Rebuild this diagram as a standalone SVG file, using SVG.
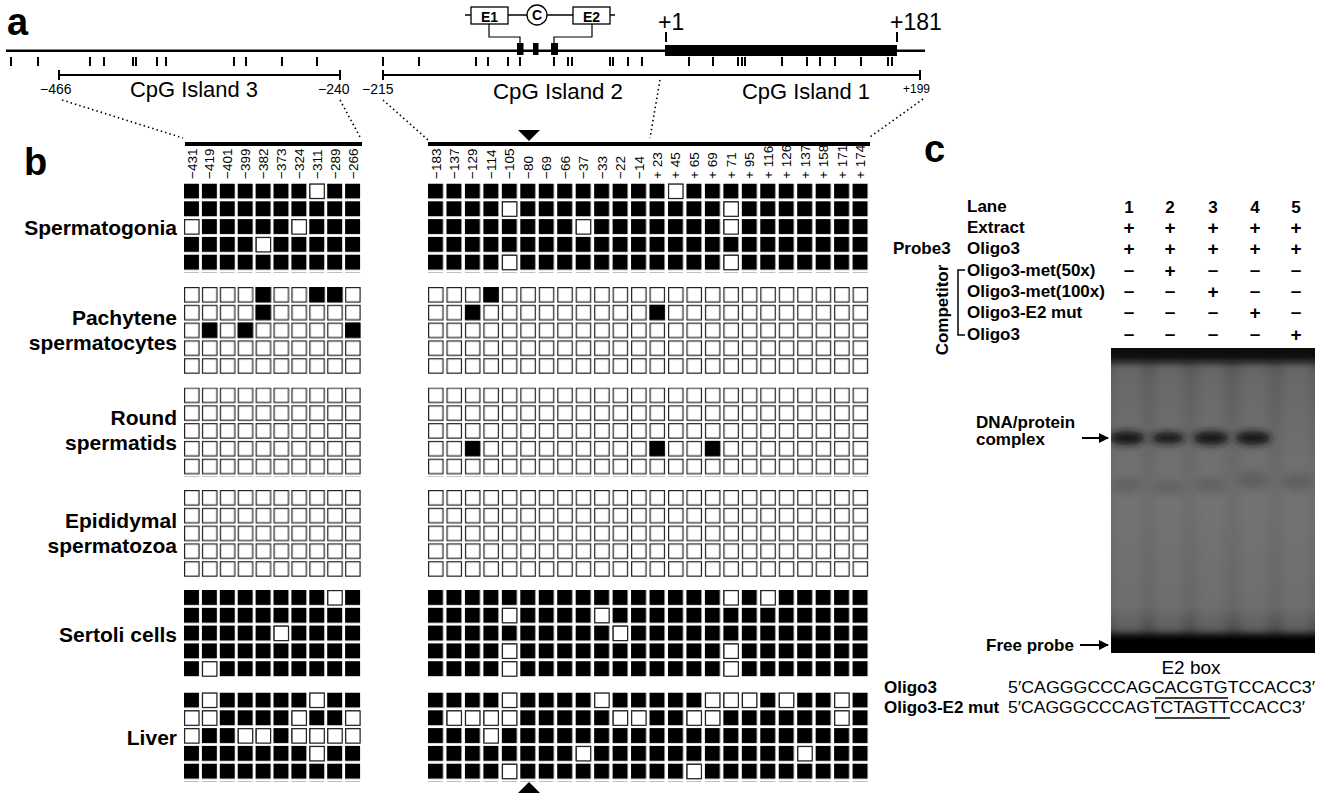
<svg xmlns="http://www.w3.org/2000/svg" xmlns:xlink="http://www.w3.org/1999/xlink" width="1324" height="800" viewBox="0 0 1324 800">
<style>
text{font-family:"Liberation Sans",Arial,sans-serif;fill:#000}
.b{font-weight:bold}
.cl{font-size:13.5px}
.lbl{font-size:21px;font-weight:bold;text-anchor:end}
.isl{font-size:22px}
.sm{font-size:14px}
.row{font-size:17px;font-weight:bold}
.pm{font-size:19px;font-weight:bold;text-anchor:middle}
.seq{font-size:17px}
.line{stroke:#000;fill:none}
.dot{stroke:#000;stroke-width:1.6;stroke-dasharray:1.5 3;fill:none}
</style>
<defs>
<pattern id="LW" width="17.9" height="17.8" patternUnits="userSpaceOnUse"><rect x="0.6" y="0.6" width="14.4" height="14.4" fill="#fff" stroke="#222" stroke-width="1.2"/></pattern>
<pattern id="LB" width="17.9" height="17.8" patternUnits="userSpaceOnUse"><rect width="15" height="15" fill="#000"/></pattern>
<pattern id="RW" width="18.46" height="17.8" patternUnits="userSpaceOnUse"><rect x="0.6" y="0.6" width="14.4" height="14.4" fill="#fff" stroke="#222" stroke-width="1.2"/></pattern>
<pattern id="RB" width="18.46" height="17.8" patternUnits="userSpaceOnUse"><rect width="15" height="15" fill="#000"/></pattern>
<rect id="wsq" x="0.6" y="0.6" width="14.4" height="14.4" fill="#fff" stroke="#222" stroke-width="1.2"/>
<rect id="bs" x="0" y="0" width="15" height="15" fill="#000"/>
<marker id="arr" viewBox="0 0 10 10" refX="9" refY="5" markerWidth="5" markerHeight="5" orient="auto"><path d="M0,0 L10,5 L0,10 z" fill="#000"/></marker>
<linearGradient id="gelg" x1="0" y1="0" x2="0" y2="1">
<stop offset="0" stop-color="#4a4a4a"/><stop offset="0.1" stop-color="#5e5e5e"/><stop offset="0.5" stop-color="#6e6e6e"/><stop offset="0.85" stop-color="#666"/><stop offset="1" stop-color="#333"/>
</linearGradient>
<filter id="blur" x="-30%" y="-100%" width="160%" height="300%"><feGaussianBlur stdDeviation="3.5"/></filter>
<filter id="blur2" x="-30%" y="-30%" width="160%" height="160%"><feGaussianBlur stdDeviation="5"/></filter>
<clipPath id="gelclip"><rect x="1111" y="348" width="204" height="305"/></clipPath>
</defs>
<rect width="1324" height="800" fill="#fff"/>

<g id="panel-a">
<text x="7" y="35" class="b" font-size="38">a</text>
<line class="line" x1="6" y1="50.7" x2="925" y2="50.7" stroke-width="2.5"/>
<rect x="665" y="45" width="232" height="11" fill="#000"/>
<rect x="517" y="43" width="6.5" height="12" fill="#000"/>
<rect x="533" y="43" width="5.5" height="12" fill="#000"/>
<rect x="551" y="43" width="7" height="12" fill="#000"/>
<path class="line" stroke-width="2" d="M666,32V42 M897,32V42"/>
<text x="658" y="30" font-size="23">+1</text>
<text x="890" y="30" font-size="23">+181</text>
<path class="line" stroke-width="2" d="M11,57V66M38,57V66M90,57V66M104,57V66M133,57V66M136,57V66M157,57V66M166,57V66M234,57V66M246,57V66M282,57V66M317,57V66M383,57V66M419,57V66M476,57V66M488,57V66M508,57V66M520,57V66M554,57V66M568,57V66M572,57V66M610,57V66M613,57V66M628,57V66M642,57V66M689,57V66M713,57V66M738,57V66M742,57V66M745,57V66M782,57V66M807,57V66M820,57V66M835,57V66M861,57V66M888,57V66M892,57V66"/>
</g>
<g id="e-box-module">
<path class="line" stroke-width="1.3" d="M465,15H471M508,15H527M547,15H573M610,15H615"/>
<rect x="471" y="7" width="37" height="17" fill="#fff" stroke="#000" stroke-width="1.3"/>
<text x="489.5" y="21.5" class="b" font-size="14" text-anchor="middle">E1</text>
<circle cx="537" cy="15" r="10" fill="#fff" stroke="#000" stroke-width="1.3"/>
<text x="537" y="20" class="b" font-size="14" text-anchor="middle">C</text>
<rect x="573" y="7" width="37" height="17" fill="#fff" stroke="#000" stroke-width="1.3"/>
<text x="591.5" y="21.5" class="b" font-size="14" text-anchor="middle">E2</text>
<path class="line" stroke-width="1.2" d="M489,24V37H520V43 M592,24V37H554V43"/>
</g>
<g id="cpg-islands">
<path class="line" stroke-width="2" d="M59,75H340M59,70V80M340,70V80M383,75H920M383,70V80M920,70V80"/>
<text x="40" y="94" class="sm">−466</text>
<text x="130" y="97" class="isl" textLength="128" lengthAdjust="spacingAndGlyphs">CpG Island 3</text>
<text x="318" y="94" class="sm">−240</text>
<text x="362" y="94" class="sm">−215</text>
<text x="493" y="99" class="isl" textLength="130" lengthAdjust="spacingAndGlyphs">CpG Island 2</text>
<text x="742" y="99" class="isl" textLength="128" lengthAdjust="spacingAndGlyphs">CpG Island 1</text>
<text x="903" y="93" font-size="12">+199</text>
</g>
<g id="connectors">
<path class="dot" d="M62,100L183,138 M340,100L360,137 M383,100L428,140 M660,80L650,138 M923,99L870,137"/>
</g>

<g id="panel-b-header">
<text x="24" y="175" class="b" font-size="38">b</text>
<line class="line" x1="185" y1="144" x2="362" y2="144" stroke-width="4"/>
<line class="line" x1="428" y1="144" x2="870" y2="144" stroke-width="4"/>
<path d="M518,130H540L529,141z" fill="#000"/>
<path d="M518,793H540L529,782z" fill="#000"/>
</g>
<g id="col-labels" class="cl">
<text transform="translate(196.5,179) rotate(-90)">−431</text>
<text transform="translate(214.4,179) rotate(-90)">−419</text>
<text transform="translate(232.3,179) rotate(-90)">−401</text>
<text transform="translate(250.2,179) rotate(-90)">−399</text>
<text transform="translate(268.1,179) rotate(-90)">−382</text>
<text transform="translate(286,179) rotate(-90)">−373</text>
<text transform="translate(303.9,179) rotate(-90)">−324</text>
<text transform="translate(321.8,179) rotate(-90)">−311</text>
<text transform="translate(339.7,179) rotate(-90)">−289</text>
<text transform="translate(357.6,179) rotate(-90)">−266</text>
<text transform="translate(440.5,179) rotate(-90)">−183</text>
<text transform="translate(458.96,179) rotate(-90)">−137</text>
<text transform="translate(477.42,179) rotate(-90)">−129</text>
<text transform="translate(495.88,179) rotate(-90)">−114</text>
<text transform="translate(514.34,179) rotate(-90)">−105</text>
<text transform="translate(532.8,179) rotate(-90)">−80</text>
<text transform="translate(551.26,179) rotate(-90)">−69</text>
<text transform="translate(569.72,179) rotate(-90)">−66</text>
<text transform="translate(588.18,179) rotate(-90)">−37</text>
<text transform="translate(606.64,179) rotate(-90)">−33</text>
<text transform="translate(625.1,179) rotate(-90)">−22</text>
<text transform="translate(643.56,179) rotate(-90)">−14</text>
<text transform="translate(662.02,179) rotate(-90)">+ 23</text>
<text transform="translate(680.48,179) rotate(-90)">+ 45</text>
<text transform="translate(698.94,179) rotate(-90)">+ 65</text>
<text transform="translate(717.4,179) rotate(-90)">+ 69</text>
<text transform="translate(735.86,179) rotate(-90)">+ 71</text>
<text transform="translate(754.32,179) rotate(-90)">+ 95</text>
<text transform="translate(772.78,179) rotate(-90)">+ 116</text>
<text transform="translate(791.24,179) rotate(-90)">+ 126</text>
<text transform="translate(809.7,179) rotate(-90)">+ 137</text>
<text transform="translate(828.16,179) rotate(-90)">+ 158</text>
<text transform="translate(846.62,179) rotate(-90)">+ 171</text>
<text transform="translate(865.08,179) rotate(-90)">+ 174</text>
</g>

<g id="spermatogonia">
<text x="177" y="235" class="lbl">Spermatogonia</text>
<g transform="translate(184,183.5)"><rect width="179" height="89" fill="url(#LB)"/>
<use href="#wsq" x="125.3" y="0"/><use href="#wsq" x="0" y="35.6"/><use href="#wsq" x="107.4" y="35.6"/><use href="#wsq" x="71.6" y="53.4"/></g>
<g transform="translate(428,183.5)"><rect width="443" height="89" fill="url(#RB)"/>
<use href="#wsq" x="239.98" y="0"/><use href="#wsq" x="73.84" y="17.8"/><use href="#wsq" x="295.36" y="17.8"/><use href="#wsq" x="147.68" y="35.6"/><use href="#wsq" x="295.36" y="35.6"/><use href="#wsq" x="73.84" y="71.2"/><use href="#wsq" x="295.36" y="71.2"/></g>
</g>

<g id="pachytene">
<text x="177" y="325" class="lbl">Pachytene</text>
<text x="177" y="350" class="lbl">spermatocytes</text>
<g transform="translate(184,287)"><rect width="179" height="89" fill="url(#LW)"/>
<use href="#bs" x="71.6" y="0"/><use href="#bs" x="125.3" y="0"/><use href="#bs" x="143.2" y="0"/><use href="#bs" x="71.6" y="17.8"/><use href="#bs" x="17.9" y="35.6"/><use href="#bs" x="53.7" y="35.6"/><use href="#bs" x="161.1" y="35.6"/></g>
<g transform="translate(428,287)"><rect width="443" height="89" fill="url(#RW)"/>
<use href="#bs" x="55.38" y="0"/><use href="#bs" x="36.92" y="17.8"/><use href="#bs" x="221.52" y="17.8"/></g>
</g>

<g id="round-spermatids">
<text x="177" y="425" class="lbl">Round</text>
<text x="177" y="450" class="lbl">spermatids</text>
<g transform="translate(184,387.5)"><rect width="179" height="89" fill="url(#LW)"/></g>
<g transform="translate(428,387.5)"><rect width="443" height="89" fill="url(#RW)"/>
<use href="#bs" x="36.92" y="53.4"/><use href="#bs" x="221.52" y="53.4"/><use href="#bs" x="276.9" y="53.4"/></g>
</g>

<g id="epididymal">
<text x="177" y="528" class="lbl">Epididymal</text>
<text x="177" y="553" class="lbl">spermatozoa</text>
<g transform="translate(184,490)"><rect width="179" height="89" fill="url(#LW)"/></g>
<g transform="translate(428,490)"><rect width="443" height="89" fill="url(#RW)"/></g>
</g>

<g id="sertoli">
<text x="177" y="642" class="lbl">Sertoli cells</text>
<g transform="translate(184,590)"><rect width="179" height="89" fill="url(#LB)"/>
<use href="#wsq" x="143.2" y="0"/><use href="#wsq" x="89.5" y="35.6"/><use href="#wsq" x="17.9" y="71.2"/></g>
<g transform="translate(428,590)"><rect width="443" height="89" fill="url(#RB)"/>
<use href="#wsq" x="295.36" y="0"/><use href="#wsq" x="332.28" y="0"/><use href="#wsq" x="73.84" y="17.8"/><use href="#wsq" x="166.14" y="17.8"/><use href="#wsq" x="184.6" y="35.6"/><use href="#wsq" x="73.84" y="53.4"/><use href="#wsq" x="295.36" y="53.4"/><use href="#wsq" x="73.84" y="71.2"/><use href="#wsq" x="295.36" y="71.2"/></g>
</g>

<g id="liver">
<text x="177" y="745" class="lbl">Liver</text>
<g transform="translate(184,692.5)"><rect width="179" height="89" fill="url(#LB)"/>
<use href="#wsq" x="17.9" y="0"/><use href="#wsq" x="125.3" y="0"/>
<use href="#wsq" x="0" y="17.8"/><use href="#wsq" x="17.9" y="17.8"/><use href="#wsq" x="107.4" y="17.8"/><use href="#wsq" x="161.1" y="17.8"/>
<use href="#wsq" x="0" y="35.6"/><use href="#wsq" x="53.7" y="35.6"/><use href="#wsq" x="71.6" y="35.6"/><use href="#wsq" x="107.4" y="35.6"/><use href="#wsq" x="125.3" y="35.6"/><use href="#wsq" x="143.2" y="35.6"/><use href="#wsq" x="161.1" y="35.6"/>
<use href="#wsq" x="125.3" y="53.4"/></g>
<g transform="translate(428,692.5)"><rect width="443" height="89" fill="url(#RB)"/>
<use href="#wsq" x="73.84" y="0"/><use href="#wsq" x="166.14" y="0"/><use href="#wsq" x="276.9" y="0"/><use href="#wsq" x="295.36" y="0"/><use href="#wsq" x="313.82" y="0"/><use href="#wsq" x="350.74" y="0"/><use href="#wsq" x="406.12" y="0"/>
<use href="#wsq" x="18.46" y="17.8"/><use href="#wsq" x="36.92" y="17.8"/><use href="#wsq" x="55.38" y="17.8"/><use href="#wsq" x="73.84" y="17.8"/><use href="#wsq" x="184.6" y="17.8"/><use href="#wsq" x="203.06" y="17.8"/><use href="#wsq" x="258.44" y="17.8"/><use href="#wsq" x="276.9" y="17.8"/><use href="#wsq" x="406.12" y="17.8"/>
<use href="#wsq" x="55.38" y="35.6"/>
<use href="#wsq" x="147.68" y="53.4"/><use href="#wsq" x="369.2" y="53.4"/>
<use href="#wsq" x="73.84" y="71.2"/><use href="#wsq" x="258.44" y="71.2"/></g>
</g>

<g id="panel-c-table">
<text x="924" y="162" class="b" font-size="38">c</text>
<text x="967" y="212" class="row">Lane</text>
<text x="967" y="233" class="row">Extract</text>
<text x="893" y="254" class="row">Probe3</text>
<text x="967" y="254" class="row">Oligo3</text>
<text x="967" y="276" class="row">Oligo3-met(50x)</text>
<text x="967" y="297" class="row">Oligo3-met(100x)</text>
<text x="967" y="318" class="row">Oligo3-E2 mut</text>
<text x="967" y="340" class="row">Oligo3</text>
<path class="line" stroke-width="1.5" d="M965,270H958V335H965"/>
<text transform="translate(948,310) rotate(-90)" class="b" font-size="17" text-anchor="middle">Competitor</text>
<g class="pm">
<text x="1129" y="213" font-size="17">1</text><text x="1170" y="213" font-size="17">2</text><text x="1213" y="213" font-size="17">3</text><text x="1255" y="213" font-size="17">4</text><text x="1296" y="213" font-size="17">5</text>
<text x="1129" y="234">+</text><text x="1170" y="234">+</text><text x="1213" y="234">+</text><text x="1255" y="234">+</text><text x="1296" y="234">+</text>
<text x="1129" y="255">+</text><text x="1170" y="255">+</text><text x="1213" y="255">+</text><text x="1255" y="255">+</text><text x="1296" y="255">+</text>
<text x="1129" y="276">–</text><text x="1170" y="277">+</text><text x="1213" y="276">–</text><text x="1255" y="276">–</text><text x="1296" y="276">–</text>
<text x="1129" y="297">–</text><text x="1170" y="297">–</text><text x="1213" y="298">+</text><text x="1255" y="297">–</text><text x="1296" y="297">–</text>
<text x="1129" y="318">–</text><text x="1170" y="318">–</text><text x="1213" y="318">–</text><text x="1255" y="319">+</text><text x="1296" y="318">–</text>
<text x="1129" y="340">–</text><text x="1170" y="340">–</text><text x="1213" y="340">–</text><text x="1255" y="340">–</text><text x="1296" y="341">+</text>
</g>
</g>

<g id="gel">
<rect x="1111" y="348" width="204" height="305" fill="url(#gelg)"/>
<g clip-path="url(#gelclip)">
<g fill="#7e7e7e" opacity="0.35" filter="url(#blur2)">
<rect x="1114" y="360" width="28" height="280"/><rect x="1155" y="360" width="28" height="280"/><rect x="1197" y="360" width="28" height="280"/><rect x="1240" y="360" width="28" height="280"/><rect x="1282" y="360" width="28" height="280"/>
</g>
<rect x="1105" y="338" width="220" height="24" fill="#111" filter="url(#blur)"/>
<g fill="#181818" filter="url(#blur)">
<ellipse cx="1127" cy="438" rx="18" ry="7"/><ellipse cx="1168" cy="438" rx="17" ry="6"/><ellipse cx="1211" cy="438" rx="18" ry="7"/><ellipse cx="1253" cy="438" rx="18" ry="7"/>
</g>
<g fill="#4e4e4e" opacity="0.5" filter="url(#blur2)">
<ellipse cx="1127" cy="485" rx="16" ry="7"/><ellipse cx="1168" cy="487" rx="16" ry="6"/><ellipse cx="1211" cy="485" rx="16" ry="7"/><ellipse cx="1253" cy="480" rx="16" ry="9"/><ellipse cx="1297" cy="482" rx="16" ry="9"/>
</g>
<rect x="1105" y="634" width="220" height="30" fill="#000" filter="url(#blur)"/>
</g>
<text x="976" y="428" class="row">DNA/protein</text>
<text x="976" y="445" class="row">complex</text>
<line x1="1082" y1="438" x2="1108" y2="438" stroke="#000" stroke-width="2" marker-end="url(#arr)"/>
<text x="986" y="651" class="row">Free probe</text>
<line x1="1080" y1="645" x2="1108" y2="645" stroke="#000" stroke-width="2" marker-end="url(#arr)"/>
</g>

<g id="sequences">
<text x="1191" y="674" font-size="19" text-anchor="middle">E2 box</text>
<text x="884" y="693" class="row">Oligo3</text>
<text x="1008" y="693" class="seq" textLength="307" lengthAdjust="spacingAndGlyphs">5′CAGGGCCCAGCACGTGTCCACC3′</text>
<line x1="1155" y1="698" x2="1228" y2="698" stroke="#000" stroke-width="1.3"/>
<text x="884" y="713" class="row">Oligo3-E2 mut</text>
<text x="1008" y="713" class="seq" textLength="297" lengthAdjust="spacingAndGlyphs">5′CAGGGCCCAGTCTAGTTCCACC3′</text>
<line x1="1155" y1="718" x2="1230" y2="718" stroke="#000" stroke-width="1.3"/>
</g>
</svg>
